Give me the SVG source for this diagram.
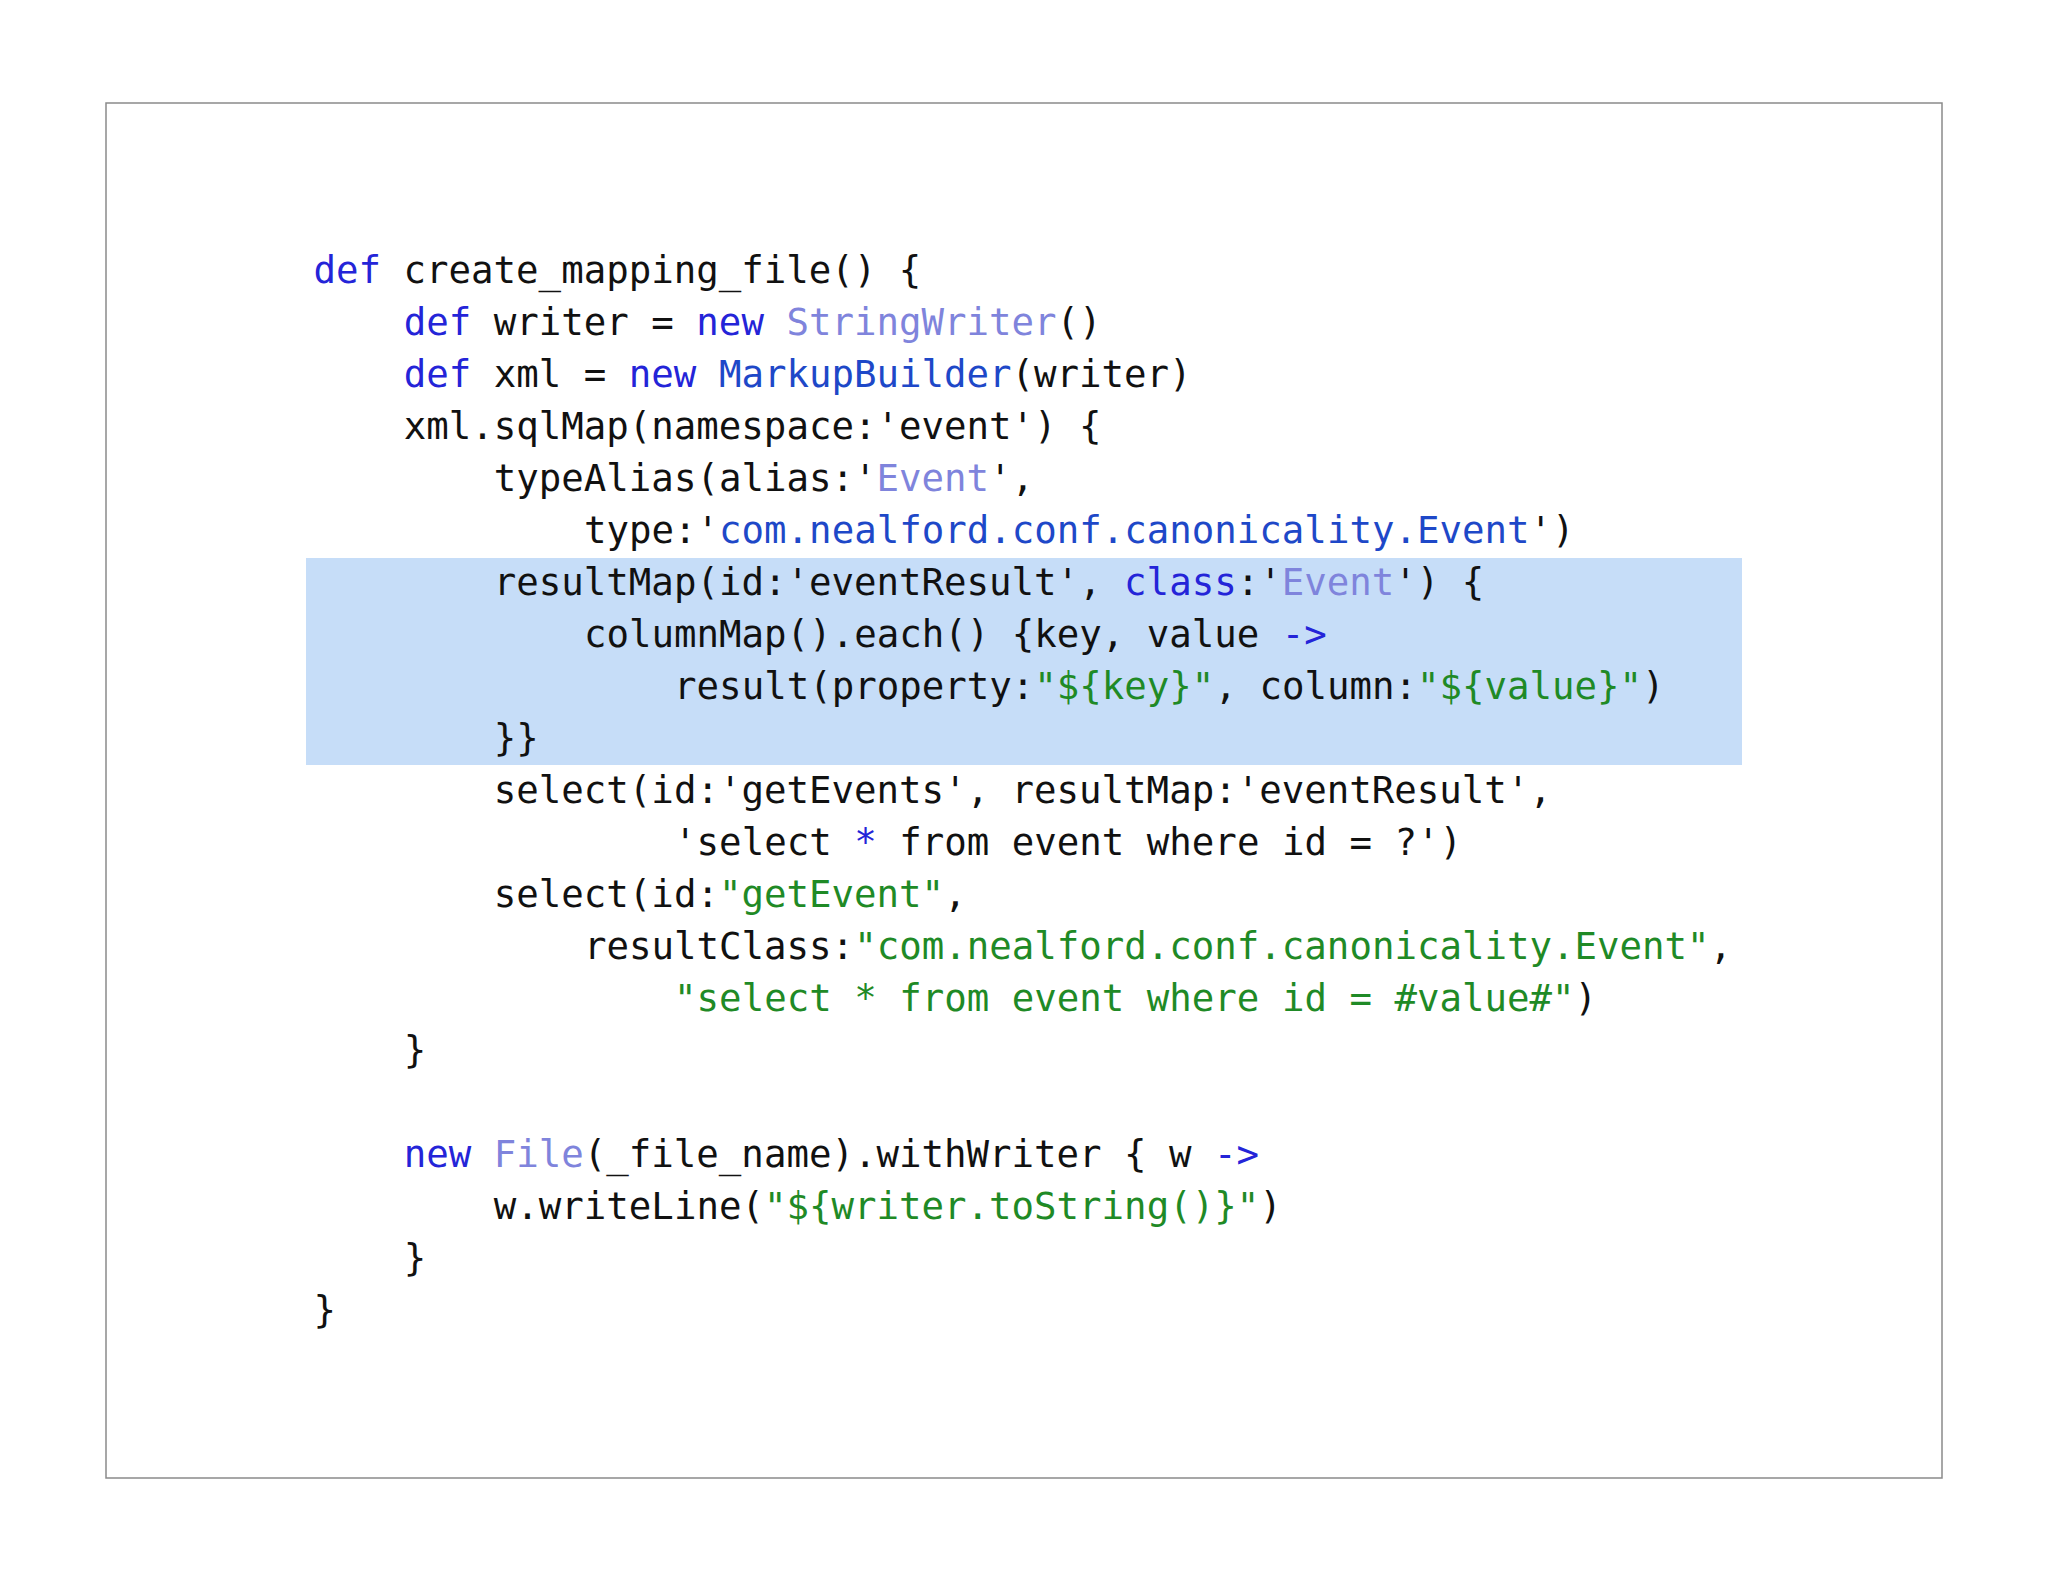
<svg xmlns="http://www.w3.org/2000/svg" width="2048" height="1582" viewBox="0 0 2048 1582">
<style>
text{font-family:"DejaVu Sans Mono","Liberation Mono",monospace;font-size:37.4px;fill:#111;white-space:pre}
.k{fill:#2424d8}.c{fill:#7f84dc}.b{fill:#1e48c8}.g{fill:#1f8a26}
</style>
<rect width="2048" height="1582" fill="#fff"/>
<rect x="106" y="103" width="1836" height="1375" fill="#fff" stroke="#8a8a8a" stroke-width="1.5"/>
<rect x="306" y="558" width="1436" height="207" fill="#c6ddf8"/>
<g id="code" xml:space="preserve">
<text x="313.5" y="283"><tspan class="k">def</tspan> create_mapping_file() {</text>
<text x="403.7" y="335"><tspan class="k">def</tspan> writer = <tspan class="k">new</tspan> <tspan class="c">StringWriter</tspan>()</text>
<text x="403.7" y="387"><tspan class="k">def</tspan> xml = <tspan class="k">new</tspan> <tspan class="b">MarkupBuilder</tspan>(writer)</text>
<text x="403.7" y="439">xml.sqlMap(namespace:'event') {</text>
<text x="493.8" y="491">typeAlias(alias:'<tspan class="c">Event</tspan>',</text>
<text x="584" y="543">type:'<tspan class="b">com.nealford.conf.canonicality.Event</tspan>')</text>
<text x="493.8" y="595">resultMap(id:'eventResult', <tspan class="k">class</tspan>:'<tspan class="c">Event</tspan>') {</text>
<text x="584" y="647">columnMap().each() {key, value <tspan class="k">-&gt;</tspan></text>
<text x="674.1" y="699">result(property:<tspan class="g">"${key}"</tspan>, column:<tspan class="g">"${value}"</tspan>)</text>
<text x="493.8" y="751">}}</text>
<text x="493.8" y="803">select(id:'getEvents', resultMap:'eventResult',</text>
<text x="674.1" y="855">'select <tspan class="k">*</tspan> from event where id = ?')</text>
<text x="493.8" y="907">select(id:<tspan class="g">"getEvent"</tspan>,</text>
<text x="584" y="959">resultClass:<tspan class="g">"com.nealford.conf.canonicality.Event"</tspan>,</text>
<text x="674.1" y="1011"><tspan class="g">"select * from event where id = #value#"</tspan>)</text>
<text x="403.7" y="1063">}</text>
<text x="403.7" y="1167"><tspan class="k">new</tspan> <tspan class="c">File</tspan>(_file_name).withWriter { w <tspan class="k">-&gt;</tspan></text>
<text x="493.8" y="1219">w.writeLine(<tspan class="g">"${writer.toString()}"</tspan>)</text>
<text x="403.7" y="1271">}</text>
<text x="313.5" y="1323">}</text>
</g>
</svg>
